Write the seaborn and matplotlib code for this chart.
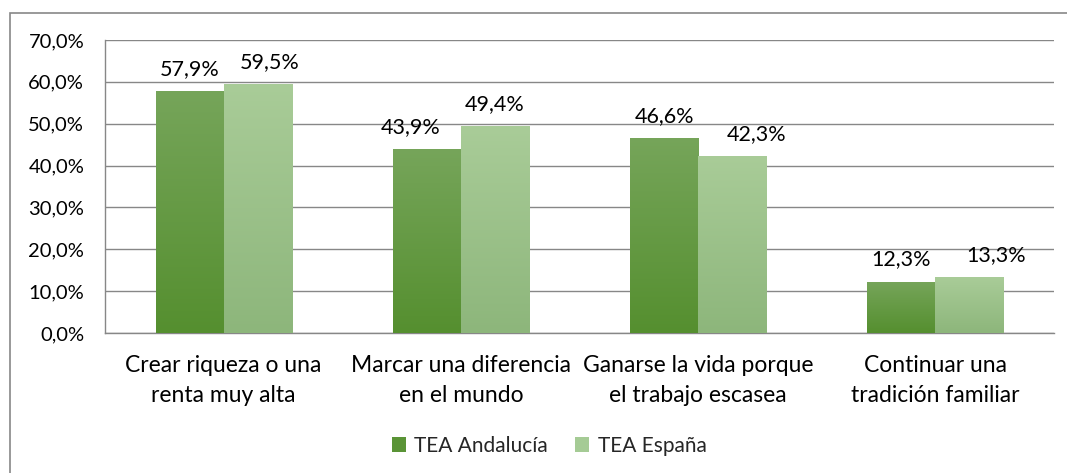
import numpy as np
import pandas as pd
import matplotlib
matplotlib.use("Agg")
import matplotlib.pyplot as plt
import seaborn as sns
from matplotlib.colors import LinearSegmentedColormap
from matplotlib.patches import Rectangle, Patch

categories = ["Crear riqueza o una\nrenta muy alta",
              "Marcar una diferencia\nen el mundo",
              "Ganarse la vida porque\nel trabajo escasea",
              "Continuar una\ntradición familiar"]
series = ["TEA Andalucía", "TEA España"]
andalucia = [57.9, 43.9, 46.6, 12.3]
espana = [59.5, 49.4, 42.3, 13.3]
yticks = [0, 10, 20, 30, 40, 50, 60, 70]

# styling
grad_colors = {"TEA Andalucía": ("#76A55A", "#558F2F"),
               "TEA España": ("#A9CC98", "#8DB67B")}
legend_colors = {"TEA Andalucía": "#5A9436", "TEA España": "#A5CB95"}
label_dx_px = {"TEA Andalucía": [0, -16, 0, 0], "TEA España": [12, 0, 24, 27]}

sns.set_style("white")
plt.rcParams["font.family"] = ["Lato", "DejaVu Sans"]

df = pd.DataFrame({
    "cat": categories * 2,
    "serie": [series[0]] * 4 + [series[1]] * 4,
    "val": andalucia + espana,
})

W, H = 1067, 473
fig = plt.figure(figsize=(W / 100, H / 100), dpi=100)
L, R, T, B = 105, 1054, 40, 333
ax = fig.add_axes([L / W, 1 - B / H, (R - L) / W, (B - T) / H])

sns.barplot(data=df, x="cat", y="val", hue="serie", hue_order=series,
            palette=[legend_colors[s] for s in series], width=0.574,
            ax=ax, legend=False, edgecolor="none", linewidth=0, zorder=3)

grid_c = "#878787"
ax.set_ylim(0, 70)
ax.set_xlim(-0.5, 3.5)
ax.set_yticks(yticks)
ax.set_yticklabels([f"{v:.1f}%".replace(".", ",") for v in yticks], fontsize=14.5)
ax.yaxis.grid(True, color=grid_c, linewidth=1)
ax.set_axisbelow(True)
ax.set_xlabel("")
ax.set_ylabel("")
for s in ["top", "right"]:
    ax.spines[s].set_visible(False)
for s in ["left", "bottom"]:
    ax.spines[s].set_color(grid_c)
    ax.spines[s].set_linewidth(1)
ax.tick_params(axis="y", length=8, width=1, color=grid_c, pad=7, labelcolor="black")
ax.tick_params(axis="x", which="major", length=0, pad=16, labelsize=16.5, labelcolor="black")
ax.set_xticks([-0.5, 0.5, 1.5, 2.5, 3.5], minor=True)
ax.tick_params(axis="x", which="minor", length=8, width=1, color=grid_c)
for lab in ax.get_xticklabels():
    lab.set_linespacing(1.5)

# gradient fills and labels
for cont, s in zip(ax.containers, series):
    top_c, bot_c = grad_colors[s]
    cmap = LinearSegmentedColormap.from_list("g", [bot_c, top_c])
    for i, patch in enumerate(cont.patches):
        x0, y0 = patch.get_x(), patch.get_y()
        w, h = patch.get_width(), patch.get_height()
        grad = np.linspace(0, 1, 256).reshape(-1, 1)
        im = ax.imshow(grad, extent=[x0, x0 + w, y0, y0 + h], origin="lower",
                       cmap=cmap, aspect="auto", zorder=4, interpolation="bilinear")
        im.set_clip_path(patch)
        ax.annotate(f"{h:.1f}%".replace(".", ","), xy=(x0 + w / 2, y0 + h),
                    xytext=(label_dx_px[s][i] * 0.72, 16 * 0.72),
                    textcoords="offset points", ha="center", va="baseline",
                    fontsize=15.5, color="black", zorder=5)

ax.set_ylim(0, 70)
ax.set_xlim(-0.5, 3.5)

# legend
handles = [Patch(facecolor=legend_colors[s], edgecolor="none", label=s) for s in series]
fig.legend(handles=handles, loc="center", bbox_to_anchor=(549 / W, 1 - 446 / H),
           ncol=2, frameon=False, fontsize=15, handlelength=0.7, handleheight=0.7,
           handletextpad=0.4, columnspacing=1.27)

# outer border
fig.patches.append(Rectangle((10 / W, -0.1), 1.2, 1 - 13 / H + 0.1,
                             transform=fig.transFigure, fill=False,
                             edgecolor="#878787", linewidth=1.2))

fig.savefig("out.png", dpi=100)
